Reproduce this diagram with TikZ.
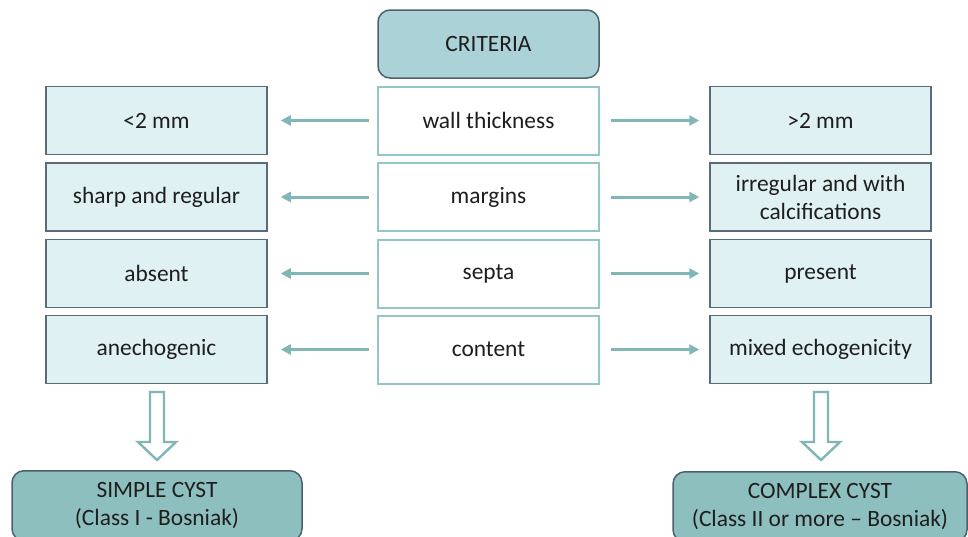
\documentclass[tikz,border=0pt]{standalone}
\usepackage{fontspec}
\setmainfont{Carlito}
\usetikzlibrary{arrows.meta}
\definecolor{txt}{HTML}{1E1E1E}
\definecolor{critfill}{HTML}{AAD2D7}
\definecolor{critdraw}{HTML}{4E5F6E}
\definecolor{lightfill}{HTML}{DFF1F3}
\definecolor{boxdraw}{HTML}{5C6B78}
\definecolor{centdraw}{HTML}{94C6C8}
\definecolor{arrcol}{HTML}{80B6B6}
\definecolor{resfill}{HTML}{8EBFBF}
\tikzset{
  base/.style={font=\fontsize{11.7}{14}\selectfont, text=txt, align=center, minimum width=110.5pt, minimum height=34pt, inner sep=1pt, line width=0.75pt},
  critbox/.style={base, fill=critfill, draw=critdraw, rounded corners=6pt},
  sidebox/.style={base, fill=lightfill, draw=boxdraw},
  centbox/.style={base, fill=white, draw=centdraw, line width=1pt},
  resbox/.style={base, fill=resfill, draw=critdraw, rounded corners=6pt, minimum height=35pt, anchor=north},
  arr/.style={draw=arrcol, line width=1.5pt, -{Triangle[length=5pt,width=5pt]}},
  blockarr/.style={draw=arrcol, line width=1.2pt, fill=white, line join=miter}
}
\begin{document}
\begin{tikzpicture}[x=0.5pt,y=-0.5pt]
\clip (0,0) rectangle (968,536);
\fill[white] (0,0) rectangle (968,536);
% criteria
\node[critbox] (crit) at (488.5,44) {CRITERIA};
% center
\node[centbox] (c1) at (488.5,120.5) {wall thickness};
\node[centbox] (c2) at (488.5,197) {margins};
\node[centbox] (c3) at (488.5,273.5) {septa};
\node[centbox] (c4) at (488.5,349.5) {content};
% left
\node[sidebox] (l1) at (156.5,120.5) {<2 mm};
\node[sidebox] (l2) at (156.5,197) {sharp and regular};
\node[sidebox] (l3) at (156.5,273.5) {absent};
\node[sidebox] (l4) at (156.5,349.5) {anechogenic};
% right
\node[sidebox] (r1) at (820.5,120.5) {>2 mm};
\node[sidebox] (r2) at (820.5,197) {irregular and with\\calcifications};
\node[sidebox] (r3) at (820.5,273.5) {present};
\node[sidebox] (r4) at (820.5,349.5) {mixed echogenicity};
% arrows
\foreach \i in {1,2,3,4}{
  \draw[arr, shorten <=4pt, shorten >=6.5pt] (c\i.west) -- (l\i.east);
  \draw[arr, shorten <=5.5pt, shorten >=5pt] (c\i.east) -- (r\i.west);
}
% results
\node[resbox, minimum width=145pt] (simple) at (157,470) {SIMPLE CYST\\(Class I - Bosniak)};
\node[resbox, minimum width=147pt] (complex) at (820,471) {COMPLEX CYST\\(Class II or more -- Bosniak)};
% block arrows
\coordinate (ba) at (157,392);
\coordinate (bb) at (821,392);
\draw[blockarr] (ba) ++(-7,0) -- ++(0,50) -- ++(-12,0) -- ++(19,18) -- ++(19,-18) -- ++(-12,0) -- ++(0,-50) -- cycle;
\draw[blockarr] (bb) ++(-7,0) -- ++(0,50) -- ++(-12,0) -- ++(19,18) -- ++(19,-18) -- ++(-12,0) -- ++(0,-50) -- cycle;
\end{tikzpicture}
\end{document}
